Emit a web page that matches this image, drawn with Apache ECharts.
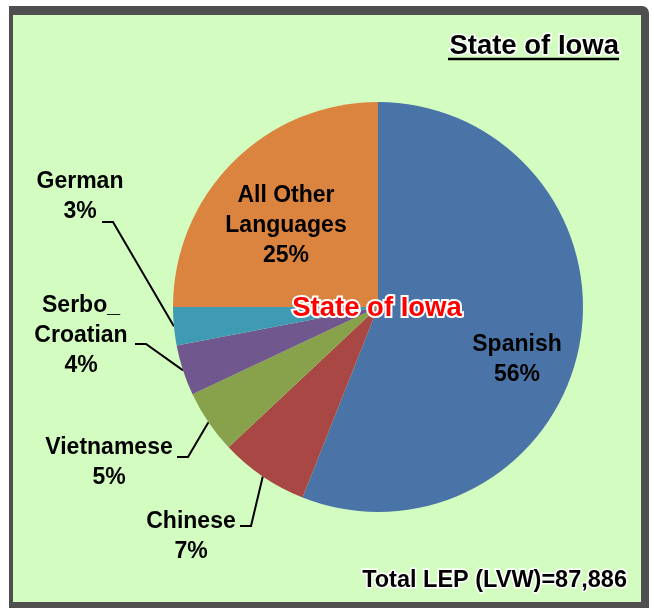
<!DOCTYPE html>
<html><head><meta charset="utf-8">
<script src="https://cdn.jsdelivr.net/npm/echarts@6/dist/echarts.min.js"></script>
<style>html,body{margin:0;padding:0;background:#fff}#c{width:654px;height:613px}</style>
</head><body><div id="c"></div>
<script>
const categories = ['Spanish', 'Chinese', 'Vietnamese', 'Serbo_Croatian', 'German', 'All Other Languages'];
const labelNames = ['Spanish', 'Chinese', 'Vietnamese', 'Serbo_\nCroatian', 'German', 'All Other\nLanguages'];
const percents = [56, 7, 5, 4, 3, 25];
const colors = ['#4A74A8', '#A94744', '#88A24B', '#70588F', '#3F9AB3', '#DB8440'];
const chartTitle = 'State of Iowa';
const totalNote = 'Total LEP (LVW)=87,886';

const FONT = '"Liberation Sans", Arial, sans-serif';
// label placement (layout only)
const labelPos = [
  {x: 517, y: 360, inside: true},
  {x: 191, y: 537, ax: 240, ay: 526},
  {x: 109, y: 463, ax: 177, ay: 457},
  {x: 81, y: 336, ax: 135, ay: 344},
  {x: 80, y: 197, ax: 102, ay: 222},
  {x: 286, y: 226, inside: true}
];

const chart = echarts.init(document.getElementById('c'), null, {renderer: 'canvas'});
chart.setOption({
  animation: false,
  graphic: [
    {type: 'rect', z: -10, silent: true, shape: {x: 9, y: 6, width: 640, height: 602, r: [0, 7, 0, 0]}, style: {fill: '#4F4F4F'}},
    {type: 'rect', z: -9, silent: true, shape: {x: 13, y: 15, width: 628, height: 587}, style: {fill: '#D3FDC0'}},
    {type: 'text', z: 10, x: 619, y: 46, style: {text: chartTitle, align: 'right', verticalAlign: 'middle', font: 'bold 27.5px ' + FONT, fill: '#000', stroke: '#fff', lineWidth: 3}},
    {type: 'line', z: 10, shape: {x1: 448, y1: 59, x2: 619, y2: 59}, style: {stroke: '#000', lineWidth: 2.5}},
    {type: 'text', z: 100, x: 377, y: 308, style: {text: chartTitle, align: 'center', verticalAlign: 'middle', font: 'bold 27.5px ' + FONT, fill: '#FF0000', stroke: '#fff', lineWidth: 4}},
    {type: 'text', z: 10, x: 627, y: 581, style: {text: totalNote, align: 'right', verticalAlign: 'middle', font: 'bold 23.5px ' + FONT, fill: '#000', stroke: '#fff', lineWidth: 3}}
  ],
  series: [{
    type: 'pie',
    center: [378, 307],
    radius: 205,
    startAngle: 90,
    clockwise: true,
    avoidLabelOverlap: false,
    emphasis: {disabled: true},
    data: categories.map((c, i) => ({
      name: c,
      value: percents[i],
      itemStyle: {color: colors[i]},
      label: {position: labelPos[i].inside ? 'inside' : 'outside'},
      labelLine: {show: !labelPos[i].inside}
    })),
    label: {
      formatter: p => labelNames[p.dataIndex] + '\n' + p.value + '%',
      fontFamily: FONT, fontWeight: 'bold', fontSize: 23, lineHeight: 30, color: '#000'
    },
    labelLine: {length: 15, length2: 10, lineStyle: {color: '#000', width: 2}},
    labelLayout: function (params) {
      const L = labelPos[params.dataIndex];
      const o = {x: L.x, y: L.y, align: 'center', verticalAlign: 'middle'};
      if (L.ax != null && params.labelLinePoints) {
        o.labelLinePoints = [params.labelLinePoints[0].slice(), [L.ax + 11, L.ay], [L.ax, L.ay]];
      }
      return o;
    }
  }]
});
</script>
</body></html>
